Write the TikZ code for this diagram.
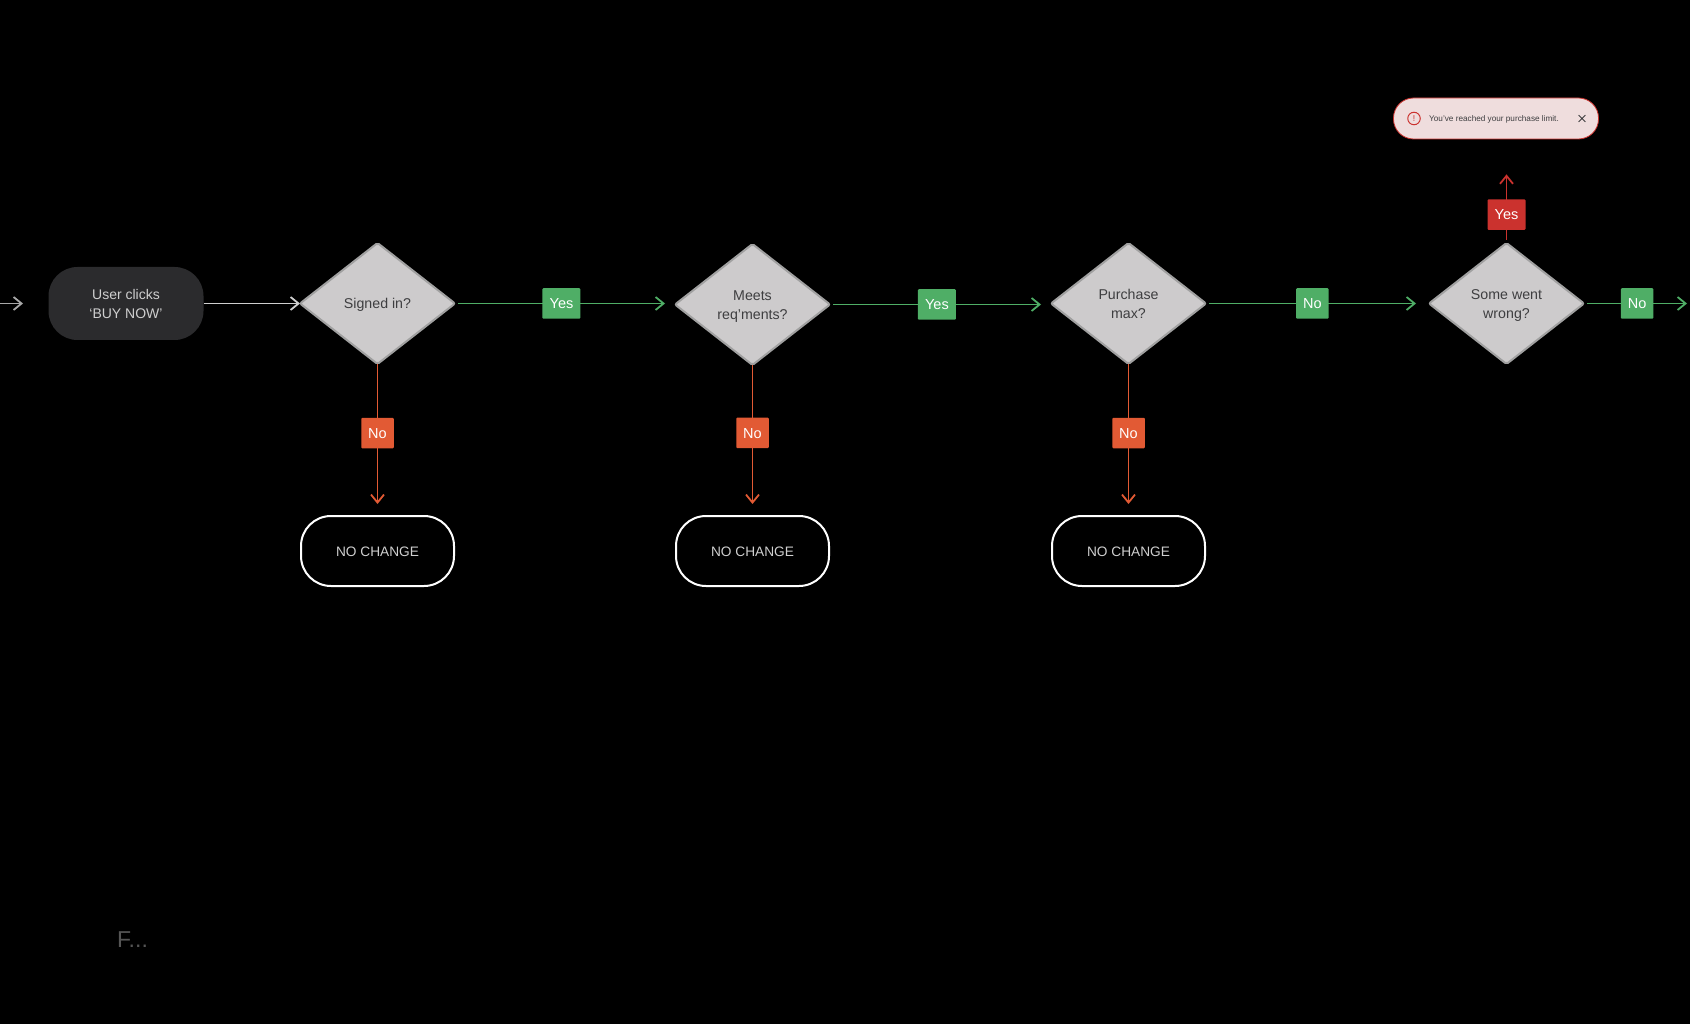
\documentclass[tikz,border=0pt]{standalone}
\usepackage{fontspec}
\setmainfont{Liberation Sans}
\usetikzlibrary{arrows.meta,shapes.geometric,shapes.misc}
\definecolor{page}{HTML}{000000}
\definecolor{ink}{HTML}{3E3E40}
\definecolor{soft}{HTML}{CFCFCF}
\definecolor{dim}{HTML}{A8A8A8}
\definecolor{green}{HTML}{4FAE66}
\definecolor{orange}{HTML}{E25A34}
\definecolor{red}{HTML}{CB322E}
\definecolor{decisionfill}{HTML}{CDCBCC}
\definecolor{decisionline}{HTML}{A0A0A0}
\definecolor{startfill}{HTML}{2B2B2D}
\definecolor{alertfill}{HTML}{EFDDDD}
\definecolor{faint}{HTML}{555555}
\tikzset{
  oneline/.style={text height=10.5pt, text depth=0pt},
  twoline/.style={text height=29.5pt, text depth=0pt},
  decision/.style={diamond, rounded corners=2pt, draw=decisionline, fill=decisionfill, line width=2pt, minimum width=155pt, minimum height=121pt, inner sep=0pt, outer sep=0pt, align=center, text=ink, font=\fontsize{14.2}{19}\selectfont},
  startcard/.style={rectangle, rounded corners=29pt, fill=startfill, minimum width=155pt, minimum height=73pt, inner sep=0pt, outer sep=0pt, align=center, text=soft, font=\fontsize{14}{19}\selectfont},
  endcard/.style={rectangle, rounded corners=30pt, draw=white, line width=2pt, minimum width=153pt, minimum height=70pt, inner sep=0pt, outer sep=0pt, text=soft, oneline, font=\fontsize{13.7}{19}\selectfont},
  flow/.style={-{Straight Barb[length=8pt,width=13pt]}, line width=1.8pt, draw=#1},
  tag/.style={rectangle, rounded corners=1pt, fill=#1, minimum height=30.5pt, inner sep=0pt, text=white, oneline, font=\fontsize{14.5}{19}\selectfont},
  tagyes/.style={tag=green, minimum width=38pt},
  tagno/.style={tag=green, minimum width=32.5pt},
  tagstop/.style={tag=orange, minimum width=32.5pt},
  tagwarn/.style={tag=red, minimum width=38pt}
}

\begin{document}
\begin{tikzpicture}[x=1pt,y=-1pt]
\useasboundingbox (0,0) rectangle (1690,1024);
\fill[page] (0,0) rectangle (1690,1024);

% Main row
\coordinate (entry) at (0,303.5);
\coordinate (entrytip) at (23,303.5);
\node[startcard, twoline] (start) at (126,303.5) {User clicks\\`BUY NOW'};
\node[decision, oneline] (signed) at (377.5,303.5) {Signed in?};
\node[decision, twoline] (meets) at (752.5,304.5) {Meets\\req'ments?};
\node[decision, twoline] (limit) at (1128.5,303.5) {Purchase\\max?};
\node[decision, twoline] (wrong) at (1506.5,303.5) {Some went\\wrong?};
\coordinate (exit) at (1687,303.5);

% Bottom row
\node[endcard] (stopsigned) at (377.5,551) {NO CHANGE};
\node[endcard] (stopmeets) at (752.5,551) {NO CHANGE};
\node[endcard] (stoplimit) at (1128.5,551) {NO CHANGE};

% Alert
\node[rectangle, rounded corners=20pt, draw=red, fill=alertfill, line width=0.8pt, minimum width=205pt, minimum height=41pt, inner sep=0pt] (alert) at (1496,118.5) {};
\node[circle, draw=red, line width=1pt, minimum size=12.5pt, inner sep=0pt, text=red, font=\fontsize{8.5}{10}\selectfont] (alerticon) at (1414,118.5) {!};
\node[anchor=west, inner sep=0pt, text=ink, text height=5.9pt, text depth=0pt, font=\fontsize{8.2}{10}\selectfont] (alerttext) at (1429,118.5) {You've reached your purchase limit.};
\node[cross out, draw=ink, line width=0.8pt, minimum size=6pt, inner sep=0pt] (alertclose) at (1582,118.5) {};

% Connectors
\draw[flow=dim] (entry) -- (entrytip);
\draw[flow=soft] (start) -- (signed);
\draw[flow=green, shorten <=3pt, shorten >=10pt] (signed.east) -- node[pos=.484,tagyes]{Yes} (signed.east -| meets.west);
\draw[flow=green, shorten <=3pt, shorten >=10pt] (meets.east) -- node[pos=.484,tagyes]{Yes} (meets.east -| limit.west);
\draw[flow=green, shorten <=3pt, shorten >=13pt] (limit.east) -- node[pos=.477,tagno]{No} (wrong.west);
\draw[flow=green, shorten <=3pt] (wrong.east) -- node[pos=.515,tagno]{No} (exit);
\draw[flow=orange, shorten >=12pt] (signed.south) -- node[pos=.454,tagstop]{No} (stopsigned.north);
\draw[flow=orange, shorten >=12pt] (meets.south) -- node[pos=.45,tagstop]{No} (stopmeets.north);
\draw[flow=orange, shorten >=12pt] (limit.south) -- node[pos=.454,tagstop]{No} (stoplimit.north);
\draw[flow=red, shorten <=3pt, shorten >=35pt] (wrong.north) -- node[pos=.274,tagwarn]{Yes} (wrong.north |- alert.south);

\node[anchor=base west, inner sep=0pt, text=faint, font=\fontsize{23}{26}\selectfont] (fragment) at (117,947) {F...};
\end{tikzpicture}
\end{document}
